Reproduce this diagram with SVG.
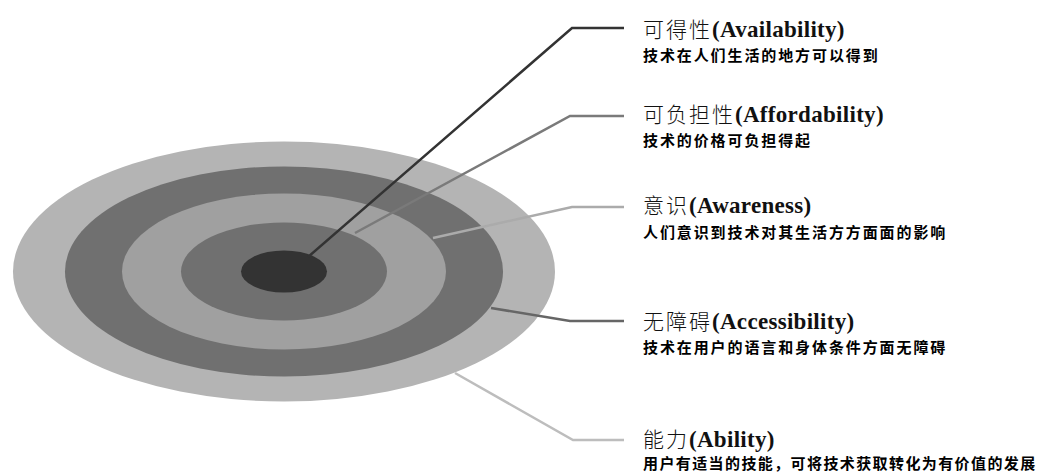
<svg xmlns="http://www.w3.org/2000/svg" width="1045" height="473" viewBox="0 0 1045 473">
<style>
.t{font-family:"Noto Sans CJK SC","Liberation Sans",sans-serif;font-size:21px;font-weight:300;fill:#111;letter-spacing:2px}
.e{font-family:"Liberation Serif","Noto Sans CJK SC",serif;font-size:23px;font-weight:bold;letter-spacing:0.3px}
.s{font-family:"Noto Sans CJK SC","Liberation Sans",sans-serif;font-size:15px;font-weight:bold;fill:#000;letter-spacing:1.9px}
.c{fill:none;stroke-width:2.5;stroke-linejoin:miter}
</style>
<rect width="1045" height="473" fill="#fff"/>
<g id="target">
<ellipse cx="284" cy="271.5" rx="271" ry="130" fill="#b4b4b4"/>
<ellipse cx="284" cy="271.5" rx="219" ry="105" fill="#707070"/>
<ellipse cx="284" cy="271.5" rx="162" ry="78" fill="#a0a0a0"/>
<ellipse cx="284" cy="271.5" rx="103" ry="49" fill="#707070"/>
<ellipse cx="284" cy="271.5" rx="43" ry="21" fill="#333"/>
</g>
<g id="connectors">
<polyline class="c" points="308,257 572,28 624,28" stroke="#333" stroke-width="3"/>
<polyline class="c" points="355,233 570,116 624,116" stroke="#7a7a7a"/>
<polyline class="c" points="433,238 572,207 624,207" stroke="#ababab"/>
<polyline class="c" points="491,308 570,321 624,321" stroke="#666"/>
<polyline class="c" points="455,373 573,440 624,440" stroke="#bdbdbd" stroke-width="3"/>
</g>
<g id="availability">
<text x="643" y="37" class="t">可得性<tspan class="e">(Availability)</tspan></text>
<text x="643" y="61" class="s">技术在人们生活的地方可以得到</text>
</g>
<g id="affordability">
<text x="643" y="122" class="t">可负担性<tspan class="e">(Affordability)</tspan></text>
<text x="643" y="146" class="s">技术的价格可负担得起</text>
</g>
<g id="awareness">
<text x="643" y="213" class="t">意识<tspan class="e">(Awareness)</tspan></text>
<text x="643" y="238" class="s">人们意识到技术对其生活方方面面的影响</text>
</g>
<g id="accessibility">
<text x="643" y="329" class="t">无障碍<tspan class="e">(Accessibility)</tspan></text>
<text x="643" y="353" class="s">技术在用户的语言和身体条件方面无障碍</text>
</g>
<g id="ability">
<text x="643" y="447" class="t">能力<tspan class="e">(Ability)</tspan></text>
<text x="643" y="469" class="s" style="letter-spacing:1.4px">用户有适当的技能，可将技术获取转化为有价值的发展</text>
</g>
</svg>
